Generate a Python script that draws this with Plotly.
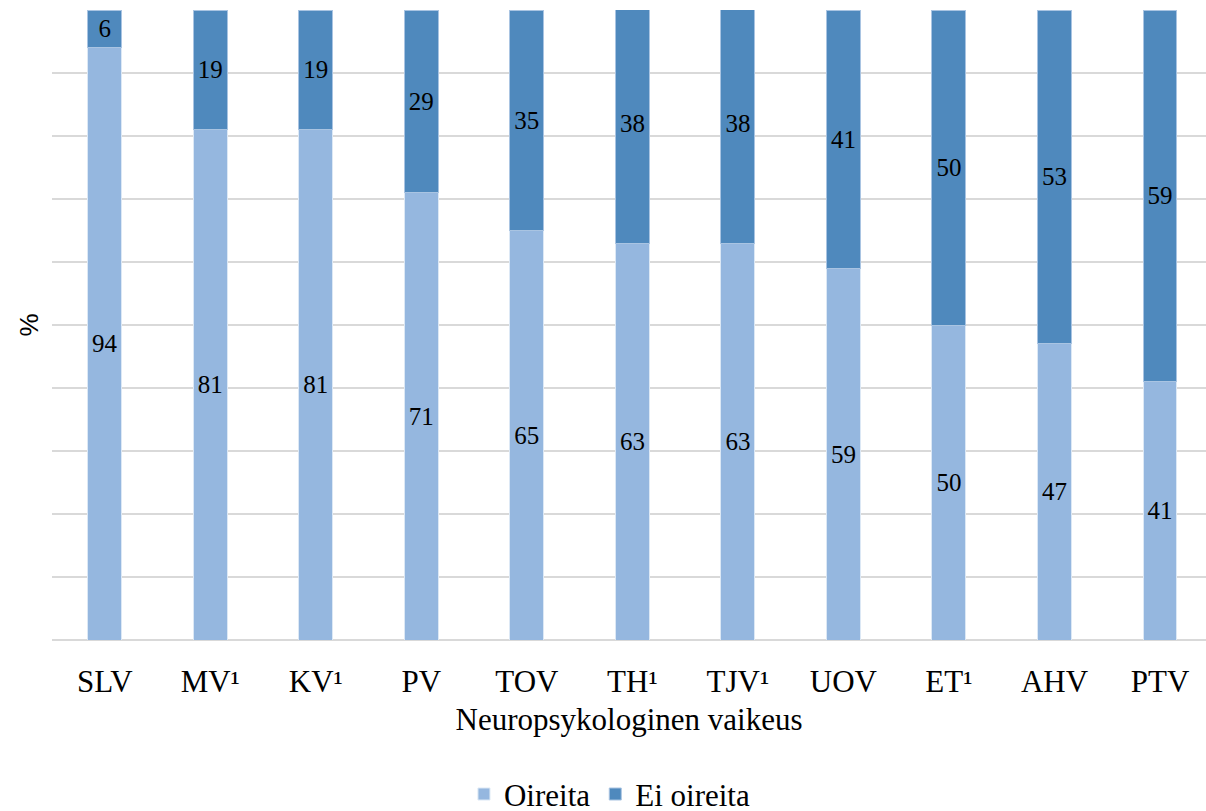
import plotly.graph_objects as go

categories = ["SLV", "MV¹", "KV¹", "PV", "TOV", "TH¹", "TJV¹", "UOV", "ET¹", "AHV", "PTV"]
oireita = [94, 81, 81, 71, 65, 63, 63, 59, 50, 47, 41]
ei_oireita = [6, 19, 19, 29, 35, 38, 38, 41, 50, 53, 59]

LIGHT = "#95B7DF"
DARK = "#4F89BD"
SERIF = "Liberation Serif"

fig = go.Figure()
fig.add_trace(go.Bar(
    x=list(range(len(categories))), y=oireita, name="Oireita",
    marker=dict(color=LIGHT, line=dict(color="#DCE8F5", width=1)),
    text=oireita, textposition="inside", insidetextanchor="middle",
    textfont=dict(family=SERIF, size=25, color="black"),
    insidetextfont=dict(family=SERIF, size=25, color="black"),
    constraintext="none", width=0.322,
))
fig.add_trace(go.Bar(
    x=list(range(len(categories))), y=ei_oireita, name="Ei oireita",
    marker=dict(color=DARK, line=dict(color="#A9C4E2", width=1)),
    text=ei_oireita, textposition="inside", insidetextanchor="middle",
    textfont=dict(family=SERIF, size=25, color="black"),
    insidetextfont=dict(family=SERIF, size=25, color="black"),
    constraintext="none", width=0.322,
))

fig.update_layout(
    barmode="stack",
    width=1206, height=811,
    margin=dict(l=52, r=0, t=10, b=171, autoexpand=False),
    plot_bgcolor="white", paper_bgcolor="white",
    font=dict(family=SERIF, color="black"),
    showlegend=True,
    legend=dict(orientation="h", x=0.4835, xanchor="center", y=-0.245, yanchor="middle",
                font=dict(family=SERIF, size=31, color="black"),
                traceorder="normal", itemwidth=30),
    xaxis=dict(
        tickmode="array", tickvals=list(range(len(categories))), ticktext=categories,
        range=[-0.5, 10.436], showgrid=False, zeroline=False, showline=False,
        tickfont=dict(family=SERIF, size=31, color="black"), ticks="",
        ticklabelstandoff=20,
        automargin=False,
        title=dict(text="Neuropsykologinen vaikeus", font=dict(family=SERIF, size=31, color="black"),
                   standoff=10),
    ),
    yaxis=dict(
        range=[0, 100], dtick=10, showgrid=True, gridcolor="#D9D9D9", gridwidth=1.5,
        showticklabels=False, zeroline=True, zerolinecolor="#D9D9D9", zerolinewidth=2,
        showline=False, automargin=False,
        title=dict(text="%", font=dict(family="Liberation Sans", size=26, color="black"),
                   standoff=4),
    ),
)

fig.write_html("out.html", config={"displayModeBar": False},
               post_script="document.body.style.margin='0';")
